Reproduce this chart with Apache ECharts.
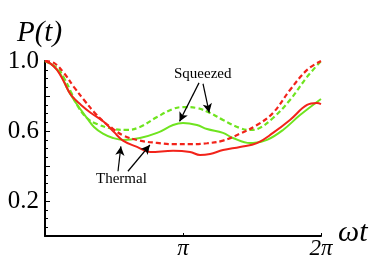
<!DOCTYPE html>
<html><head><meta charset="utf-8">
<script src="https://cdn.jsdelivr.net/npm/echarts@6/dist/echarts.min.js"></script>
<style>html,body{margin:0;padding:0;background:#fff}#c{width:382px;height:275px}</style>
</head><body><div id="c"></div>
<script>
// x in units of pi
const redDashed = [[0,1.0],[0.065,0.989],[0.138,0.931],[0.21,0.851],[0.283,0.777],[0.355,0.709],[0.428,0.651],[0.486,0.617],[0.565,0.575],[0.688,0.545],[0.812,0.532],[0.928,0.525],[1.051,0.525],[1.174,0.53],[1.29,0.545],[1.413,0.585],[1.536,0.634],[1.652,0.703],[1.775,0.834],[1.899,0.949],[2,1.0]];
const greenDashed = [[0,1.0],[0.087,0.96],[0.138,0.903],[0.188,0.823],[0.232,0.749],[0.304,0.674],[0.377,0.64],[0.493,0.612],[0.594,0.606],[0.688,0.623],[0.812,0.68],[0.928,0.726],[1.0,0.737],[1.101,0.731],[1.196,0.703],[1.29,0.663],[1.413,0.617],[1.486,0.606],[1.55,0.615],[1.652,0.674],[1.775,0.777],[1.899,0.909],[2,1.0]];
const greenSolid = [[0,1.0],[0.058,0.975],[0.116,0.92],[0.159,0.846],[0.21,0.777],[0.261,0.72],[0.304,0.674],[0.355,0.623],[0.42,0.585],[0.493,0.56],[0.565,0.549],[0.688,0.56],[0.812,0.589],[0.928,0.634],[1.0,0.646],[1.101,0.634],[1.174,0.611],[1.29,0.589],[1.362,0.56],[1.486,0.531],[1.507,0.531],[1.609,0.549],[1.725,0.606],[1.848,0.691],[2,0.783]];
const redSolid = [[0,1.0],[0.04,0.985],[0.087,0.949],[0.138,0.88],[0.188,0.806],[0.261,0.749],[0.333,0.703],[0.428,0.651],[0.5,0.594],[0.565,0.545],[0.667,0.509],[0.761,0.48],[0.928,0.487],[1.051,0.48],[1.123,0.463],[1.196,0.469],[1.29,0.491],[1.413,0.509],[1.536,0.531],[1.652,0.589],[1.775,0.663],[1.899,0.749],[1.971,0.76],[2,0.754]];
const xTickLabels = {1:'π', 2:'2π'};
const yTickLabels = {0.2:'0.2', 0.6:'0.6', 1:'1.0'};
const squeezedArrows = [[[1.116,0.875],[0.975,0.655]],[[1.145,0.87],[1.19,0.705]]];
const thermalArrows = [[[0.529,0.37],[0.55,0.512]],[[0.601,0.37],[0.76,0.52]]];

const RED = '#f2231a', GREEN = '#6fe41f';
const serif = 'Liberation Serif';
const chart = echarts.init(document.getElementById('c'));
function arrowLines(arr){
  return arr.map(a=>[{coord:a[0],symbol:'none'},{coord:a[1],symbol:'arrow',symbolSize:[7,9]}]);
}
chart.setOption({
  animation:false,
  grid:{left:45,right:61,top:61,bottom:39,containLabel:false},
  xAxis:{type:'value',min:0,max:2,interval:1,
    axisLine:{lineStyle:{color:'#000',width:2}},
    axisTick:{inside:true,length:3,lineStyle:{color:'#000',width:1}},
    splitLine:{show:false},
    axisLabel:{formatter:v=>xTickLabels[v]||'',fontFamily:serif,fontStyle:'italic',fontSize:23,color:'#000',margin:1}
  },
  yAxis:{type:'value',min:0,max:1,interval:0.2,
    axisLine:{show:true,lineStyle:{color:'#000',width:2}},
    axisTick:{inside:true,length:5,lineStyle:{color:'#000',width:1}},
    minorTick:{show:true,splitNumber:4,length:3,lineStyle:{color:'#000',width:1}},
    splitLine:{show:false},
    axisLabel:{formatter:v=>yTickLabels[Math.round(v*10)/10]||'',fontFamily:serif,fontSize:25,color:'#000',margin:6}
  },
  graphic:[
    {type:'text',left:17,top:19,style:{text:'P(t)',font:'italic 29px "Liberation Serif"',fill:'#000'}},
    {type:'text',left:338,top:218,style:{text:'ωt',font:'italic 30px "Liberation Serif"',fill:'#000'}},
    {type:'text',left:174,top:67,style:{text:'Squeezed',font:'15px "Liberation Serif"',fill:'#000'}},
    {type:'text',left:96,top:172,style:{text:'Thermal',font:'15px "Liberation Serif"',fill:'#000'}}
  ],
  series:[
    {type:'line',data:greenSolid,smooth:0.4,symbol:'none',lineStyle:{color:GREEN,width:2}},
    {type:'line',data:greenDashed,smooth:0.4,symbol:'none',lineStyle:{color:GREEN,width:2.2,type:[5,3]}},
    {type:'line',data:redDashed,smooth:0.4,symbol:'none',lineStyle:{color:RED,width:2.2,type:[5,3]}},
    {type:'line',data:redSolid,smooth:0.4,symbol:'none',lineStyle:{color:RED,width:2},
      markLine:{silent:true,animation:false,symbol:['none','arrow'],label:{show:false},
        lineStyle:{color:'#000',width:1.2,type:'solid'},
        data:arrowLines(squeezedArrows).concat(arrowLines(thermalArrows))}}
  ]
});
</script></body></html>
